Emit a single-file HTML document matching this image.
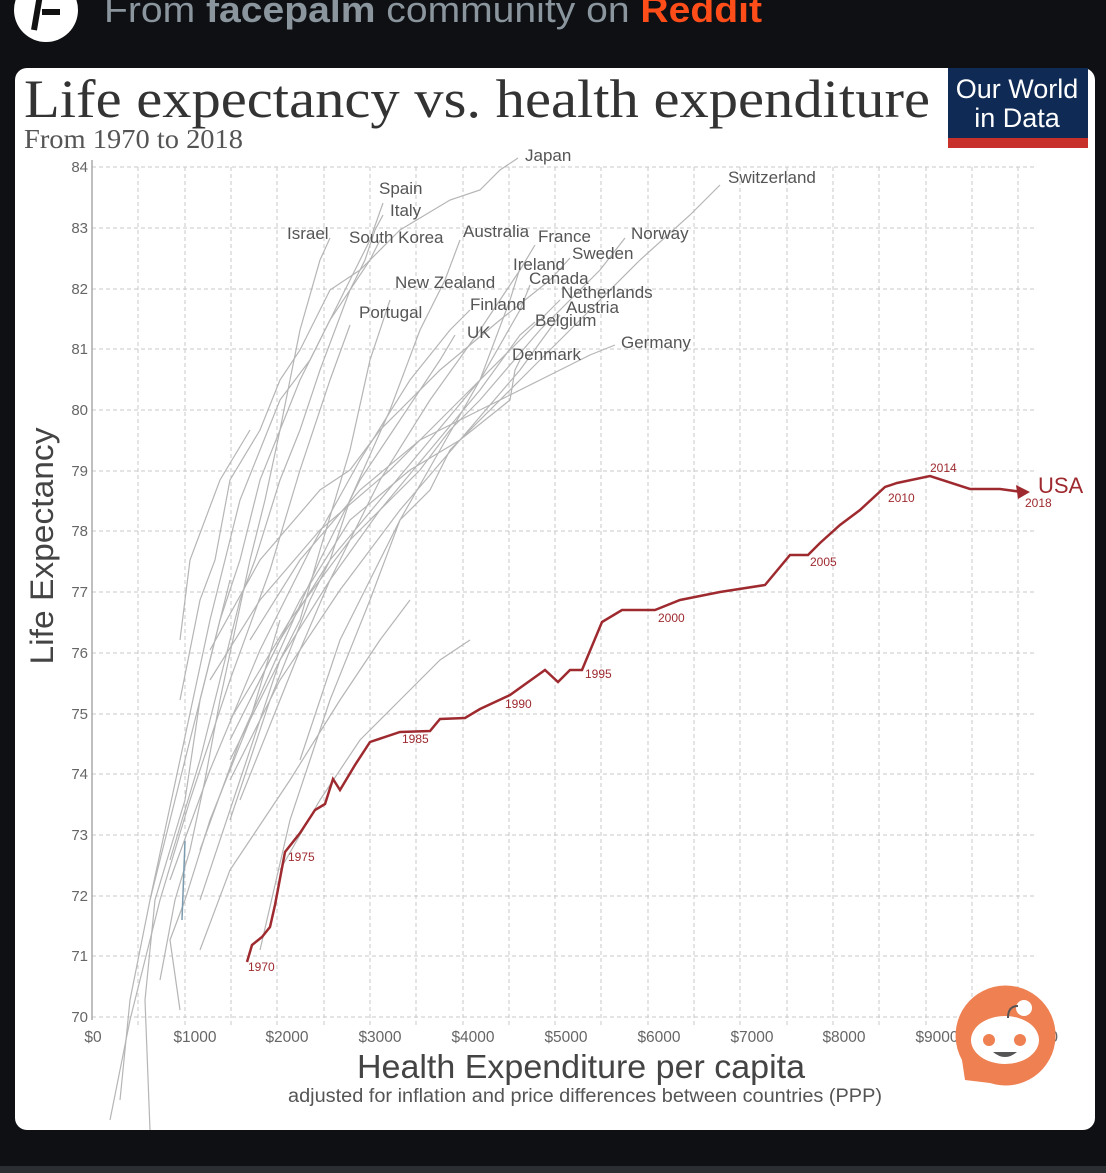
<!DOCTYPE html>
<html><head><meta charset="utf-8"><style>
html,body{margin:0;padding:0;background:#0e1013;width:1106px;height:1173px;overflow:hidden}
svg{display:block}
</style></head><body>
<svg width="1106" height="1173" viewBox="0 0 1106 1173" xmlns="http://www.w3.org/2000/svg">
<rect width="1106" height="1173" fill="#0e1013"/>
<rect x="0" y="1166" width="1106" height="7" fill="#2a2d31"/>
<circle cx="46" cy="10" r="32" fill="#fff"/>
<path d="M36 -5 L56 -5 M40 -5 L34 30 M42 12 L60 12" stroke="#111" stroke-width="6" fill="none"/>
<text x="104" y="22" textLength="658" lengthAdjust="spacingAndGlyphs" font-family="Liberation Sans, sans-serif" font-size="36" fill="#8a959e">From <tspan font-weight="bold">facepalm</tspan> community on <tspan fill="#ff4d1a" font-weight="bold">Reddit</tspan></text>
<rect x="15" y="68" width="1080" height="1062" rx="12" fill="#fff"/>
<text x="24" y="117" textLength="906" lengthAdjust="spacingAndGlyphs" font-family="Liberation Serif, serif" font-size="54" fill="#333">Life expectancy vs. health expenditure</text>
<text x="24" y="148" textLength="219" lengthAdjust="spacingAndGlyphs" font-family="Liberation Serif, serif" font-size="27" fill="#555">From 1970 to 2018</text>
<rect x="948" y="68" width="140" height="80" fill="#0f2a55"/>
<rect x="948" y="138" width="140" height="10" fill="#c7302b"/>
<text x="1017" y="98" text-anchor="middle" font-family="Liberation Sans, sans-serif" font-size="27" fill="#fff">Our World</text>
<text x="1017" y="127" text-anchor="middle" font-family="Liberation Sans, sans-serif" font-size="27" fill="#fff">in Data</text>
<g stroke="#c8c8c8" stroke-width="1" stroke-dasharray="4,3">
<line x1="92" y1="167" x2="1035" y2="167"/><line x1="92" y1="228" x2="1035" y2="228"/><line x1="92" y1="289" x2="1035" y2="289"/><line x1="92" y1="349" x2="1035" y2="349"/><line x1="92" y1="410" x2="1035" y2="410"/><line x1="92" y1="471" x2="1035" y2="471"/><line x1="92" y1="531" x2="1035" y2="531"/><line x1="92" y1="592" x2="1035" y2="592"/><line x1="92" y1="653" x2="1035" y2="653"/><line x1="92" y1="714" x2="1035" y2="714"/><line x1="92" y1="774" x2="1035" y2="774"/><line x1="92" y1="835" x2="1035" y2="835"/><line x1="92" y1="896" x2="1035" y2="896"/><line x1="92" y1="956" x2="1035" y2="956"/><line x1="92" y1="1017" x2="1035" y2="1017"/>
<line x1="138" y1="167" x2="138" y2="1025"/><line x1="185" y1="167" x2="185" y2="1025"/><line x1="231" y1="167" x2="231" y2="1025"/><line x1="277" y1="167" x2="277" y2="1025"/><line x1="324" y1="167" x2="324" y2="1025"/><line x1="370" y1="167" x2="370" y2="1025"/><line x1="416" y1="167" x2="416" y2="1025"/><line x1="463" y1="167" x2="463" y2="1025"/><line x1="509" y1="167" x2="509" y2="1025"/><line x1="555" y1="167" x2="555" y2="1025"/><line x1="601" y1="167" x2="601" y2="1025"/><line x1="648" y1="167" x2="648" y2="1025"/><line x1="694" y1="167" x2="694" y2="1025"/><line x1="740" y1="167" x2="740" y2="1025"/><line x1="787" y1="167" x2="787" y2="1025"/><line x1="833" y1="167" x2="833" y2="1025"/><line x1="879" y1="167" x2="879" y2="1025"/><line x1="926" y1="167" x2="926" y2="1025"/><line x1="972" y1="167" x2="972" y2="1025"/><line x1="1018" y1="167" x2="1018" y2="1025"/>
</g>
<line x1="92" y1="160" x2="92" y2="1020" stroke="#aaa" stroke-width="1.5"/>
<g font-family="Liberation Sans, sans-serif" font-size="15" fill="#666" text-anchor="end">
<text x="88" y="172">84</text><text x="88" y="233">83</text><text x="88" y="294">82</text><text x="88" y="354">81</text><text x="88" y="415">80</text><text x="88" y="476">79</text><text x="88" y="536">78</text><text x="88" y="597">77</text><text x="88" y="658">76</text><text x="88" y="719">75</text><text x="88" y="779">74</text><text x="88" y="840">73</text><text x="88" y="901">72</text><text x="88" y="961">71</text><text x="88" y="1022">70</text>
</g>
<g font-family="Liberation Sans, sans-serif" font-size="15.5" fill="#666" text-anchor="middle">
<text x="93" y="1042">$0</text><text x="195" y="1042">$1000</text><text x="287" y="1042">$2000</text><text x="380" y="1042">$3000</text><text x="473" y="1042">$4000</text><text x="566" y="1042">$5000</text><text x="659" y="1042">$6000</text><text x="752" y="1042">$7000</text><text x="844" y="1042">$8000</text><text x="937" y="1042">$9000</text><text x="1030" y="1042">$10,000</text>
</g>
<text transform="translate(53,546) rotate(-90)" text-anchor="middle" textLength="237" lengthAdjust="spacingAndGlyphs" font-family="Liberation Sans, sans-serif" font-size="32" fill="#444">Life Expectancy</text>
<text x="581" y="1078" text-anchor="middle" textLength="448" lengthAdjust="spacingAndGlyphs" font-family="Liberation Sans, sans-serif" font-size="33" fill="#444">Health Expenditure per capita</text>
<text x="585" y="1102" text-anchor="middle" textLength="594" lengthAdjust="spacingAndGlyphs" font-family="Liberation Sans, sans-serif" font-size="19" fill="#555">adjusted for inflation and price differences between countries (PPP)</text>
<g fill="none" stroke="#b5b5b5" stroke-width="1.2">
<polyline points="180,700 200,600 215,560 230,480 260,430 280,380 300,350 330,290 360,270 400,230 450,200 480,190 500,170 518,158"/>
<polyline points="300,760 320,700 340,640 370,580 400,520 430,490 450,450 520,380 550,350 580,320 640,260 690,215 720,185"/>
<polyline points="150,900 165,840 180,780 200,700 220,620 240,560 260,480 280,430 300,380 340,300 355,270 370,240 383,203"/>
<polyline points="170,860 200,760 215,700 240,600 255,560 280,480 300,430 320,370 350,290 365,260 375,230 383,215"/>
<polyline points="160,980 175,900 190,850 205,780 220,700 250,560 265,500 280,430 300,330 320,260 330,238"/>
<polyline points="120,1100 130,1000 150,900 165,830 180,760 210,620 240,500 280,400 310,360 330,320 370,260 380,240"/>
<polyline points="230,820 250,760 270,700 310,600 330,560 350,500 390,410 420,330 445,280 460,240"/>
<polyline points="240,800 280,700 300,650 330,580 380,480 430,400 480,330 520,270 535,245"/>
<polyline points="230,720 290,620 350,540 420,470 450,430 480,400 540,330 600,270 625,238"/>
<polyline points="210,650 260,560 320,490 350,470 380,430 440,370 500,320 550,280 570,258"/>
<polyline points="260,950 290,820 310,760 330,700 370,600 400,520 440,450 480,380 510,300 520,268"/>
<polyline points="230,740 280,640 330,560 380,500 430,440 480,380 520,310 530,285"/>
<polyline points="200,900 240,780 280,660 300,620 320,550 350,450 370,360 390,300"/>
<polyline points="210,680 260,600 320,530 390,470 450,410 510,350 550,310 560,300"/>
<polyline points="170,880 210,770 260,650 310,550 360,460 410,380 450,330 470,310"/>
<polyline points="230,780 280,680 340,590 400,510 460,440 520,370 560,315"/>
<polyline points="110,1120 130,1020 160,900 190,800 230,680 270,570 300,470 330,380 350,325"/>
<polyline points="230,760 280,660 330,580 380,510 430,450 480,390 520,335 535,322"/>
<polyline points="200,850 240,740 280,650 320,560 360,480 400,420 440,360 455,335"/>
<polyline points="250,640 300,560 360,490 420,440 480,410 540,380 590,355 615,345"/>
<polyline points="250,700 300,600 350,520 410,470 460,440 510,400 515,370 520,360"/>
<polyline points="150,1130 145,1000 155,900 185,800 200,700 230,580"/>
<polyline points="180,1010 170,940 185,900 210,820 250,720 280,620"/>
<polyline points="200,950 230,870 290,780 340,700 380,640 410,600"/>
<polyline points="280,870 320,800 360,740 400,700 440,660 470,640"/>
<polyline points="180,640 190,560 220,480 250,430"/>
</g>
<polyline points="185,841 182,920" stroke="#7a9aae" stroke-width="1.5" fill="none"/>
<g font-family="Liberation Sans, sans-serif" font-size="17" fill="#555">
<text x="525" y="161">Japan</text><text x="728" y="183">Switzerland</text><text x="379" y="194">Spain</text><text x="390" y="216">Italy</text><text x="287" y="239">Israel</text><text x="349" y="243">South Korea</text><text x="463" y="237">Australia</text><text x="538" y="242">France</text><text x="631" y="239">Norway</text><text x="572" y="259">Sweden</text><text x="513" y="270">Ireland</text><text x="529" y="284">Canada</text><text x="395" y="288">New Zealand</text><text x="561" y="298">Netherlands</text><text x="470" y="310">Finland</text><text x="566" y="313">Austria</text><text x="359" y="318">Portugal</text><text x="535" y="326">Belgium</text><text x="467" y="338">UK</text><text x="621" y="348">Germany</text><text x="512" y="360">Denmark</text>
</g>
<polyline points="247,962 252,945 262,937 270,927 275,905 285,852 300,833 315,810 325,804 333,779 340,790 355,765 370,742 400,732 430,731 440,719 465,718 480,709 510,695 545,670 558,682 570,670 582,670 602,622 622,610 655,610 680,600 720,592 765,585 790,555 808,555 820,543 840,525 860,510 885,487 897,483 930,476 970,489 1000,489 1022,492" fill="none" stroke="#9e2a2f" stroke-width="2.5"/>
<path d="M1030 492 L1016 485 L1018 499 Z" fill="#9e2a2f"/>
<g font-family="Liberation Sans, sans-serif" font-size="12" fill="#9e2a2f">
<text x="248" y="971">1970</text><text x="288" y="861">1975</text><text x="402" y="743">1985</text><text x="505" y="708">1990</text><text x="585" y="678">1995</text><text x="658" y="622">2000</text><text x="810" y="566">2005</text><text x="888" y="502">2010</text><text x="930" y="472">2014</text><text x="1025" y="507">2018</text>
</g>
<text x="1038" y="493" font-family="Liberation Sans, sans-serif" font-size="22" fill="#9e2a2f">USA</text>
<path d="M965 1080 L962 1060 A50 50 0 1 1 990 1083 Z" fill="#ee8052"/>
<ellipse cx="1005" cy="1040" rx="34" ry="24" fill="#fff"/>
<circle cx="1024" cy="1008" r="8" fill="#fff"/>
<path d="M1008 1018 Q1008 1006 1018 1006" stroke="#555" stroke-width="2" fill="none"/>
<circle cx="989" cy="1040" r="6" fill="#ee8052"/><circle cx="1020" cy="1040" r="6" fill="#ee8052"/>
<path d="M993 1052 Q1005 1062 1017 1052 Z" fill="#555"/>
</svg>
</body></html>
